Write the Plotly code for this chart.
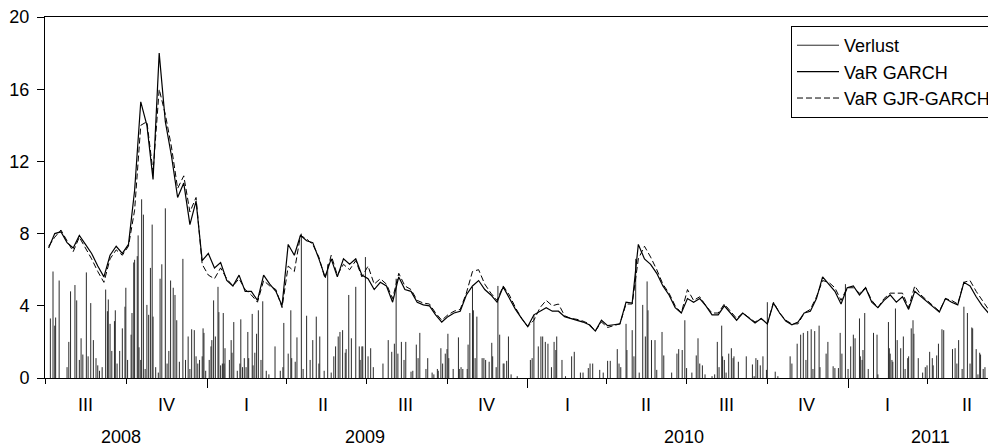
import pandas as pd
import plotly.graph_objects as go

# ---------------- data ----------------
week_ends = pd.date_range("2008-07-04", periods=155, freq="7D")

var_garch = [
    7.2, 8.0, 8.1, 7.5, 7.2, 7.9, 7.4, 6.9, 6.2, 5.6,
    6.8, 7.3, 6.9, 7.4, 10.4, 15.3, 14.0, 11.0, 18.0, 14.2,
    12.3, 10.0, 10.8, 8.5, 9.8, 6.5, 6.9, 6.1, 6.4, 5.4,
    5.1, 5.7, 4.8, 4.8, 4.3, 5.7, 5.2, 4.8, 4.0, 7.4,
    6.8, 7.9, 7.6, 7.5, 6.6, 5.6, 6.6, 5.6, 6.6, 6.3,
    6.6, 5.7, 5.5, 4.9, 5.3, 5.1, 4.2, 5.6, 4.9, 4.8,
    4.2, 4.05, 4.0, 3.5, 3.1, 3.4, 3.6, 3.7, 4.6, 5.1,
    5.4, 4.9, 4.6, 4.2, 5.05, 4.4, 3.8, 3.3, 2.85, 3.5,
    3.7, 3.9, 3.7, 3.7, 3.4, 3.3, 3.2, 3.1, 2.95, 2.6,
    3.2, 2.9, 2.95, 3.0, 4.2, 4.15, 7.4, 6.6, 6.3, 5.8,
    5.1, 4.6, 3.9, 3.6, 4.4, 4.2, 4.4, 4.0, 3.5, 3.5,
    4.0, 3.6, 3.2, 3.6, 3.35, 3.05, 3.3, 3.0, 4.15, 3.6,
    3.15, 2.95, 3.1, 3.6, 3.7, 4.4, 5.6, 5.2, 4.8, 4.1,
    5.0, 5.1, 4.6, 5.0, 4.2, 3.9, 4.3, 4.6, 4.2, 4.5,
    3.8, 4.8, 4.5, 4.2, 3.9, 3.65, 4.4, 4.2, 4.05, 5.3,
    5.1, 4.5, 4.0, 3.6, 3.35,
]

var_gjr = [
    7.3, 7.8, 8.2, 7.6, 7.0, 7.8, 7.2, 6.6, 5.9, 5.3,
    6.6, 7.1, 6.8, 7.3, 9.3, 14.0, 14.2, 11.4, 16.0, 14.6,
    12.8, 10.5, 11.2, 9.2, 10.0, 6.3, 5.7, 5.5, 6.1, 5.5,
    5.1, 5.5, 4.9, 4.6, 4.2, 5.4, 5.1, 4.9, 3.9, 6.2,
    5.9, 7.9, 7.7, 7.4, 6.7, 5.5, 6.8, 5.7, 6.3, 6.0,
    6.5, 5.6, 6.2, 5.2, 5.5, 5.2, 4.4, 5.8, 5.1, 4.9,
    4.3, 4.15, 4.1, 3.6, 3.2, 3.5, 3.7, 3.8, 4.7, 5.9,
    6.0, 5.2, 4.7, 4.3, 5.1, 4.6, 3.9, 3.3, 2.85, 3.2,
    3.9, 4.3, 4.0, 4.1, 3.45, 3.3, 3.25, 3.15, 3.0, 2.6,
    3.1, 2.8, 2.9, 3.0, 4.1, 4.1, 6.6, 7.3, 6.7, 6.0,
    5.2, 4.7, 4.0, 3.6, 4.9, 4.3, 4.5, 4.0, 3.6, 3.6,
    4.1, 3.7, 3.3, 3.6, 3.35, 3.1, 3.3, 3.0, 4.2, 3.6,
    3.2, 3.0, 3.0, 3.6, 3.8, 4.5, 5.4, 5.3, 5.0, 4.3,
    5.0, 5.0, 4.7, 5.0, 4.3, 3.9, 4.4, 4.7, 4.7, 4.7,
    3.9, 5.1, 4.6, 4.3, 4.0, 3.7, 4.4, 4.3, 4.1, 5.3,
    5.4, 4.8, 4.3, 3.8, 3.45,
]

loss_dates_2008 = [
    "2008-07-06", "2008-07-09", "2008-07-11", "2008-07-12", "2008-07-16", "2008-07-25", "2008-07-27", "2008-07-29",
    "2008-08-03", "2008-08-05", "2008-08-08", "2008-08-10", "2008-08-12", "2008-08-16", "2008-08-18", "2008-08-21", "2008-08-24", "2008-08-27", "2008-08-29", "2008-08-31",
    "2008-09-03", "2008-09-07", "2008-09-09", "2008-09-10", "2008-09-12", "2008-09-14", "2008-09-17", "2008-09-18", "2008-09-20", "2008-09-23", "2008-09-26", "2008-09-29", "2008-09-30",
    "2008-10-02", "2008-10-06", "2008-10-07", "2008-10-09", "2008-10-10", "2008-10-13", "2008-10-14", "2008-10-15", "2008-10-17", "2008-10-18", "2008-10-20", "2008-10-22", "2008-10-24", "2008-10-26", "2008-10-28", "2008-10-30", "2008-10-31",
    "2008-11-03", "2008-11-06", "2008-11-08", "2008-11-10", "2008-11-14", "2008-11-16", "2008-11-18", "2008-11-20", "2008-11-23", "2008-11-25", "2008-11-27", "2008-11-30",
    "2008-12-04", "2008-12-07", "2008-12-10", "2008-12-12", "2008-12-14", "2008-12-17", "2008-12-19", "2008-12-21", "2008-12-23", "2008-12-26", "2008-12-27", "2008-12-28", "2008-12-30",
]
loss_values_2008 = [
    3.3, 5.9, 2.9, 3.35, 5.4, 0.6, 2.0, 4.8,
    5.15, 4.3, 1.0, 2.2, 1.3, 5.85, 1.2, 4.15, 2.1, 1.1, 0.7, 0.4,
    0.6, 4.9, 3.7, 4.35, 3.0, 1.5, 3.15, 3.75, 0.8, 1.5, 2.75, 3.95, 5.0,
    1.0, 2.4, 3.6, 6.4, 6.55, 6.75, 7.9, 1.7, 1.0, 9.9, 9.05, 0.5, 4.05, 3.5, 6.1, 8.5, 3.4,
    0.6, 0.3, 5.5, 6.3, 9.4, 0.8, 1.5, 5.4, 5.0, 4.6, 3.2, 0.9,
    6.6, 1.0, 2.3, 0.5, 2.7, 2.65, 1.2, 0.8, 1.0, 1.2, 2.75, 2.5, 0.4,
]

loss_dates_2009 = [
    "2009-01-03", "2009-01-05", "2009-01-06", "2009-01-08", "2009-01-10", "2009-01-13", "2009-01-14", "2009-01-16", "2009-01-18", "2009-01-19", "2009-01-20", "2009-01-21", "2009-01-26", "2009-01-28", "2009-01-29", "2009-01-31",
    "2009-02-04", "2009-02-07", "2009-02-08", "2009-02-10", "2009-02-12", "2009-02-14", "2009-02-16", "2009-02-17", "2009-02-21", "2009-02-22", "2009-02-24", "2009-02-26", "2009-02-28",
    "2009-03-03", "2009-03-05", "2009-03-09", "2009-03-12", "2009-03-19", "2009-03-25", "2009-03-28", "2009-03-29",
    "2009-04-03", "2009-04-06", "2009-04-07", "2009-04-11", "2009-04-13", "2009-04-18", "2009-04-20", "2009-04-24", "2009-04-28",
    "2009-05-01", "2009-05-05", "2009-05-08", "2009-05-09", "2009-05-14", "2009-05-18", "2009-05-22", "2009-05-25", "2009-05-27", "2009-05-30",
    "2009-06-01", "2009-06-04", "2009-06-07", "2009-06-08", "2009-06-11", "2009-06-14", "2009-06-19", "2009-06-23", "2009-06-24", "2009-06-26", "2009-06-27", "2009-06-30",
    "2009-07-03", "2009-07-06", "2009-07-09", "2009-07-20", "2009-07-26", "2009-07-30",
    "2009-08-02", "2009-08-04", "2009-08-06", "2009-08-10", "2009-08-13", "2009-08-15", "2009-08-21", "2009-08-23", "2009-08-27", "2009-08-29", "2009-08-31",
    "2009-09-07", "2009-09-09", "2009-09-14", "2009-09-16", "2009-09-20", "2009-09-21", "2009-09-24", "2009-09-26", "2009-09-29",
    "2009-10-01", "2009-10-02", "2009-10-03", "2009-10-08", "2009-10-14", "2009-10-15", "2009-10-17", "2009-10-19", "2009-10-24", "2009-10-25", "2009-10-27", "2009-10-30", "2009-10-31",
    "2009-11-02", "2009-11-04", "2009-11-10", "2009-11-12", "2009-11-14", "2009-11-18", "2009-11-21", "2009-11-22", "2009-11-26", "2009-11-28", "2009-11-30",
    "2009-12-04", "2009-12-05", "2009-12-08", "2009-12-10", "2009-12-13", "2009-12-20",
]
loss_values_2009 = [
    1.0, 1.75, 2.1, 4.3, 2.3, 5.05, 3.65, 0.7, 0.8, 3.6, 0.8, 1.65, 1.0, 2.1, 1.4, 3.1,
    0.4, 0.8, 3.25, 0.6, 1.1, 0.6, 2.55, 1.1, 3.55, 0.7, 1.4, 2.45, 3.75,
    1.0, 4.25, 0.4, 0.2, 1.75, 0.4, 0.6, 3.05,
    1.35, 3.75, 1.1, 0.9, 2.25, 8.0, 0.5, 3.45, 1.0,
    2.1, 3.4, 0.8, 2.3, 0.4, 6.3, 0.3, 1.2, 1.75, 2.3,
    2.55, 2.65, 1.4, 1.6, 4.6, 2.2, 5.05, 1.75, 1.0, 1.75, 1.75, 6.7,
    1.2, 1.65, 0.6, 0.8, 2.1, 1.45,
    1.9, 5.5, 1.35, 2.0, 1.0, 2.0, 0.35, 0.4, 1.85, 1.1, 2.5,
    0.5, 1.1, 0.3, 0.2, 0.5, 0.4, 1.65, 0.8, 1.35,
    1.6, 2.45, 1.1, 0.5, 2.25, 0.5, 0.6, 0.5, 0.5, 1.85, 3.6, 5.05, 3.75,
    1.1, 3.4, 1.1, 1.1, 1.0, 0.9, 1.95, 1.2, 0.6, 5.1, 2.4,
    0.8, 0.8, 0.95, 2.3, 0.2, 0.1,
]

loss_dates_2010 = [
    "2010-01-04", "2010-01-06", "2010-01-08", "2010-01-13", "2010-01-16", "2010-01-18", "2010-01-21", "2010-01-24", "2010-01-28", "2010-01-31",
    "2010-02-02", "2010-02-03", "2010-02-09", "2010-02-13", "2010-02-20", "2010-02-23",
    "2010-03-02", "2010-03-05", "2010-03-11", "2010-03-13", "2010-03-16", "2010-03-24", "2010-03-28",
    "2010-04-02", "2010-04-05", "2010-04-13", "2010-04-15", "2010-04-17", "2010-04-23", "2010-04-24", "2010-04-30",
    "2010-05-02", "2010-05-04", "2010-05-08", "2010-05-12", "2010-05-15", "2010-05-17", "2010-05-18", "2010-05-22", "2010-05-26", "2010-05-28",
    "2010-06-03", "2010-06-05", "2010-06-14", "2010-06-20", "2010-06-22", "2010-06-26", "2010-06-29",
    "2010-07-01", "2010-07-07", "2010-07-12", "2010-07-14", "2010-07-16", "2010-07-19", "2010-07-22", "2010-07-30",
    "2010-08-02", "2010-08-05", "2010-08-07", "2010-08-10", "2010-08-11", "2010-08-13", "2010-08-15", "2010-08-18", "2010-08-21", "2010-08-23", "2010-08-24", "2010-08-29",
    "2010-09-07", "2010-09-14", "2010-09-16", "2010-09-18", "2010-09-20", "2010-09-23", "2010-09-26", "2010-09-30",
    "2010-10-01", "2010-10-10", "2010-10-13", "2010-10-27", "2010-10-29",
    "2010-11-04", "2010-11-08", "2010-11-11", "2010-11-14", "2010-11-16", "2010-11-20", "2010-11-22", "2010-11-24", "2010-11-29", "2010-11-30",
    "2010-12-07", "2010-12-09", "2010-12-15", "2010-12-17", "2010-12-21", "2010-12-23", "2010-12-25", "2010-12-29",
]
loss_values_2010 = [
    1.0, 1.1, 3.5, 1.75, 2.3, 2.3, 2.0, 1.9, 0.6, 2.0,
    1.55, 2.3, 1.0, 0.1, 1.2, 1.45,
    0.3, 0.3, 0.55, 0.8, 0.8, 0.45, 0.3,
    0.95, 0.95, 1.6, 0.8, 0.6, 3.0, 1.55, 2.65,
    1.2, 6.6, 0.3, 4.05, 2.3, 5.35, 3.75, 2.1, 2.1, 0.45,
    2.55, 1.25, 0.3, 1.35, 1.6, 1.55, 3.2,
    0.55, 0.3, 1.25, 2.2, 0.8, 0.7, 0.2, 0.1,
    0.2, 2.0, 0.6, 2.9, 1.2, 1.0, 0.3, 1.35, 1.65, 1.1, 1.2, 0.9,
    1.2, 0.75, 0.1, 1.1, 1.0, 0.7, 1.2, 0.45,
    4.2, 0.35, 0.1, 1.2, 0.8,
    1.9, 2.4, 2.5, 1.0, 2.6, 2.7, 0.5, 2.6, 2.9, 0.6,
    1.35, 2.0, 0.65, 0.55, 0.55, 2.5, 1.35, 5.2,
]

loss_dates_2011 = [
    "2011-01-01", "2011-01-04", "2011-01-07", "2011-01-09", "2011-01-14", "2011-01-15", "2011-01-17", "2011-01-18", "2011-01-20", "2011-01-24", "2011-01-30",
    "2011-02-03", "2011-02-04", "2011-02-16", "2011-02-17", "2011-02-18", "2011-02-20", "2011-02-21", "2011-02-24", "2011-02-26",
    "2011-03-02", "2011-03-05", "2011-03-07", "2011-03-10", "2011-03-11", "2011-03-14", "2011-03-16", "2011-03-17", "2011-03-22", "2011-03-27", "2011-03-30",
    "2011-04-01", "2011-04-04", "2011-04-07", "2011-04-08", "2011-04-12", "2011-04-14", "2011-04-18", "2011-04-20", "2011-04-30",
    "2011-05-03", "2011-05-05", "2011-05-07", "2011-05-11", "2011-05-13", "2011-05-17", "2011-05-20", "2011-05-22", "2011-05-23", "2011-05-27", "2011-05-29", "2011-05-31",
    "2011-06-01", "2011-06-04", "2011-06-06", "2011-06-11", "2011-06-13", "2011-06-16",
]
loss_values_2011 = [
    0.5, 1.75, 2.4, 2.2, 3.3, 1.2, 1.0, 1.55, 3.6, 0.5, 2.5,
    2.4, 0.2, 3.1, 1.65, 1.35, 1.0, 0.9, 3.85, 2.1,
    1.65, 2.3, 0.5, 1.1, 1.2, 2.75, 3.2, 2.45, 1.1, 0.3, 0.6,
    0.7, 1.45, 1.1, 0.7, 1.25, 1.9, 2.7, 2.65, 1.6,
    1.65, 0.8, 2.1, 0.5, 3.95, 3.6, 0.8, 2.8, 2.75, 1.6, 0.2, 1.4,
    1.3, 0.5, 0.6, 1.35, 1.35, 0.7,
]

quarter_labels = ["III", "IV", "I", "II", "III", "IV", "I", "II", "III", "IV", "I", "II"]
quarter_mids = ["2008-08-15", "2008-11-15", "2009-02-15", "2009-05-13", "2009-08-15", "2009-11-15",
                "2010-02-15", "2010-05-16", "2010-08-15", "2010-11-15", "2011-02-15", "2011-05-16"]
quarter_starts = ["2008-07-01", "2008-10-01", "2009-04-01", "2009-07-01", "2009-10-01",
                  "2010-04-01", "2010-07-01", "2010-10-01", "2011-04-01"]
year_starts = ["2009-01-01", "2010-01-01", "2011-01-01"]
year_labels = ["2008", "2009", "2010", "2011"]
year_centers = ["2008-09-24", "2009-06-29", "2010-06-28", "2011-04-05"]

# ---------------- build ----------------
loss_dates = loss_dates_2008 + loss_dates_2009 + loss_dates_2010 + loss_dates_2011
loss_values = loss_values_2008 + loss_values_2009 + loss_values_2010 + loss_values_2011
assert len(loss_dates) == len(loss_values)
assert len(var_garch) == len(week_ends) == len(var_gjr)

spike_x, spike_y = [], []
for d, v in zip(loss_dates, loss_values):
    spike_x += [d, d, None]
    spike_y += [0, v, None]

FONT = "Liberation Sans, Arial, sans-serif"

fig = go.Figure()
fig.add_trace(go.Scatter(
    x=spike_x, y=spike_y, mode="lines", name="Verlust",
    line=dict(color="#2a2a2a", width=1), connectgaps=False, hoverinfo="skip"))
fig.add_trace(go.Scatter(
    x=week_ends, y=var_garch, mode="lines", name="VaR GARCH",
    line=dict(color="black", width=1.2)))
fig.add_trace(go.Scatter(
    x=week_ends, y=var_gjr, mode="lines", name="VaR GJR-GARCH",
    line=dict(color="black", width=1, dash="6px,3px")))

annotations = []
for lab, pos in zip(quarter_labels, quarter_mids):
    annotations.append(dict(x=pos, y=-0.075, xref="x", yref="paper", text=lab,
                            showarrow=False, yanchor="middle", xanchor="center",
                            font=dict(family=FONT, size=18, color="black")))
for lab, pos in zip(year_labels, year_centers):
    annotations.append(dict(x=pos, y=-0.163, xref="x", yref="paper", text=lab,
                            showarrow=False, yanchor="middle", xanchor="center",
                            font=dict(family=FONT, size=18, color="black")))

# the page body keeps an 8px margin, so the figure is 8px smaller and shifted
fig.update_layout(
    width=988, height=440,
    margin=dict(l=37, r=0, t=9, b=70),
    paper_bgcolor="white", plot_bgcolor="white",
    font=dict(family=FONT, size=18, color="black"),
    showlegend=True,
    legend=dict(x=1, xanchor="right", y=0.975, yanchor="top",
                bordercolor="black", borderwidth=1, bgcolor="white",
                font=dict(family=FONT, size=18, color="black"),
                itemwidth=42, tracegroupgap=0),
    annotations=annotations,
    xaxis=dict(
        type="date",
        range=["2008-06-29 21:00", "2011-06-18 14:00"],
        tickmode="array", tickvals=year_starts, ticktext=["", "", ""],
        ticks="outside", ticklen=9, tickcolor="black", tickwidth=1,
        showline=True, linecolor="black", linewidth=1, mirror=True,
        showgrid=False, zeroline=False,
        minor=dict(tickmode="array", tickvals=quarter_starts, ticks="outside",
                   ticklen=5, tickcolor="black", tickwidth=1, showgrid=False),
    ),
    yaxis=dict(
        range=[0, 20], tickmode="array", tickvals=[0, 4, 8, 12, 16, 20],
        ticks="outside", ticklen=7, tickcolor="black",
        showline=True, linecolor="black", linewidth=1,
        showgrid=False, zeroline=False,
        ticklabelstandoff=4, ticklabeloverflow="allow",
        tickfont=dict(family=FONT, size=18, color="black"),
    ),
)

fig.write_html("out.html")
